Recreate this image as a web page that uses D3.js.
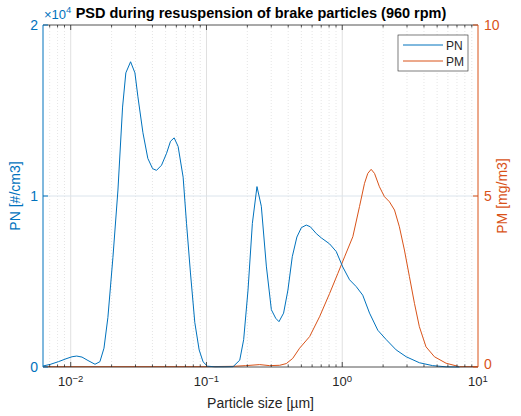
<!DOCTYPE html>
<html>
<head>
<meta charset="utf-8">
<script src="https://cdn.jsdelivr.net/npm/d3@7"></script>
<style>
body { margin: 0; background: #fff; }
text { font-family: "Liberation Sans", Arial, sans-serif; }
</style>
</head>
<body>
<svg id="chart" width="521" height="416"></svg>
<script>
// particle size [um] and number concentration [#/cm3]
var pnSize = [0.00625, 0.00705, 0.00811, 0.00923, 0.01023, 0.01107, 0.01211, 0.0134, 0.0151, 0.01641,
  0.01758, 0.01879, 0.02046, 0.02228, 0.0241, 0.02547, 0.02761, 0.02972, 0.03126, 0.03404,
  0.03698, 0.04009, 0.04285, 0.04667, 0.05082, 0.05433, 0.05781, 0.0618, 0.0673, 0.07129,
  0.07621, 0.08204, 0.08831, 0.09441, 0.1016, 0.1151, 0.1365, 0.157, 0.1758, 0.1879,
  0.2023, 0.2178, 0.2355, 0.2535, 0.2761, 0.3006, 0.3236, 0.342, 0.3698, 0.3981,
  0.4285, 0.4634, 0.5, 0.5433, 0.5821, 0.6442, 0.7015, 0.8072, 0.9036, 1.009,
  1.132, 1.268, 1.416, 1.589, 1.828, 2.109, 2.495, 2.958, 3.698, 4.634, 5.821, 7.3];
var pnValue = [60, 150, 310, 480, 600, 640, 580, 380, 160, 310,
  1100, 2900, 6400, 10350, 15200, 17200, 17850, 17200, 15800, 13700,
  12200, 11600, 11500, 11800, 12500, 13200, 13400, 12900, 11100, 8400,
  5500, 2600, 1000, 300, 50, 10, 10, 20, 400, 1600,
  4500, 8400, 10550, 9400, 5900, 3350, 2850, 2650, 3150, 4500,
  6450, 7600, 8150, 8300, 8200, 7800, 7550, 7200, 6750, 5850,
  5100, 4700, 4200, 3150, 2150, 1600, 1000, 600, 250, 80, 10, 0];

// particle size [um] and mass concentration [mg/m3]
var pmSize = [0.00625, 0.01, 0.02, 0.05, 0.1, 0.157, 0.1945, 0.2466, 0.2917, 0.3459,
  0.3873, 0.4315, 0.4853, 0.5754, 0.6808, 0.8072, 0.929, 1.04, 1.197, 1.34,
  1.459, 1.542, 1.633, 1.729, 1.879, 2.046, 2.228, 2.427, 2.636, 2.871,
  3.126, 3.404, 3.698, 4.14, 4.775, 5.821, 7.295, 10];
var pmValue = [0.01, 0.01, 0.01, 0.01, 0.01, 0.02, 0.04, 0.07, 0.04, 0.05,
  0.1, 0.25, 0.55, 0.89, 1.47, 2.15, 2.74, 3.22, 3.81, 4.69,
  5.37, 5.66, 5.78, 5.66, 5.27, 4.98, 4.83, 4.59, 4.1, 3.42,
  2.64, 1.86, 1.18, 0.59, 0.3, 0.11, 0.01, 0.01];

var xDecades = [-2, -1, 0, 1];
var leftTicks = [0, 10000, 20000];
var leftTickLabels = ["0", "1", "2"];
var rightTicks = [0, 5, 10];

var blue = "#0072BD", orange = "#D95319", dark = "#262626";
var L = 43, R = 478, T = 25, B = 367;

var svg = d3.select("#chart");
var x = d3.scaleLog().domain([0.00625, 10]).range([L, R]);
var yL = d3.scaleLinear().domain([0, 20000]).range([B, T]);
var yR = d3.scaleLinear().domain([0, 10]).range([B, T]);

svg.append("rect").attr("x", L).attr("y", T).attr("width", R - L).attr("height", B - T).attr("fill", "#fff");

// minor x grid
var minors = [];
for (var e = -3; e <= 0; e++) {
  for (var k = 2; k <= 9; k++) {
    var v = k * Math.pow(10, e);
    if (v > 0.00625 && v < 10) minors.push(v);
  }
}
svg.append("g").selectAll("line").data(minors).enter().append("line")
  .attr("x1", d => x(d)).attr("x2", d => x(d)).attr("y1", T).attr("y2", B)
  .attr("stroke", "#d4d4d4").attr("stroke-width", 0.6).attr("stroke-dasharray", "1,2");

// major grid
svg.append("g").selectAll("line").data(xDecades.slice(0, 3)).enter().append("line")
  .attr("x1", d => x(Math.pow(10, d))).attr("x2", d => x(Math.pow(10, d))).attr("y1", T).attr("y2", B)
  .attr("stroke", "#e0e0e0").attr("stroke-width", 1);
svg.append("line").attr("x1", L).attr("x2", R).attr("y1", yL(10000)).attr("y2", yL(10000))
  .attr("stroke", "#dbe4ec").attr("stroke-width", 1);

// curves
var linePN = d3.line().x((d, i) => x(pnSize[i])).y(d => yL(d));
var linePM = d3.line().x((d, i) => x(pmSize[i])).y(d => yR(d));
svg.append("path").datum(pmValue).attr("d", linePM).attr("fill", "none").attr("stroke", orange).attr("stroke-width", 1);
svg.append("path").datum(pnValue).attr("d", linePN).attr("fill", "none").attr("stroke", blue).attr("stroke-width", 1);

// frame: top and bottom
svg.append("line").attr("x1", L).attr("x2", R).attr("y1", B).attr("y2", B).attr("stroke", dark).attr("stroke-width", 0.8);
svg.append("line").attr("x1", L).attr("x2", R).attr("y1", T).attr("y2", T).attr("stroke", dark).attr("stroke-width", 0.8);

// x ticks (inward) on bottom and top
var majorX = xDecades.map(d => Math.pow(10, d)).filter(v => v < 10);
[B, T].forEach(function(yy) {
  var dir = yy === B ? -1 : 1;
  svg.append("g").selectAll("line").data(majorX).enter().append("line")
    .attr("x1", d => x(d)).attr("x2", d => x(d)).attr("y1", yy).attr("y2", yy + dir * 5)
    .attr("stroke", dark).attr("stroke-width", 0.8);
  svg.append("g").selectAll("line").data(minors).enter().append("line")
    .attr("x1", d => x(d)).attr("x2", d => x(d)).attr("y1", yy).attr("y2", yy + dir * 2.5)
    .attr("stroke", dark).attr("stroke-width", 0.8);
});

// x tick labels
var xl = svg.append("g").selectAll("text").data(xDecades).enter().append("text")
  .attr("x", d => x(Math.pow(10, d))).attr("y", 386)
  .attr("text-anchor", "middle").attr("font-size", 13).attr("fill", dark);
xl.append("tspan").text("10");
xl.append("tspan").attr("dy", -4.5).attr("font-size", 9.5).text(d => d < 0 ? "\u2212" + (-d) : d);

svg.append("text").attr("x", (L + R) / 2).attr("y", 408).attr("text-anchor", "middle")
  .attr("font-size", 14).attr("fill", dark).text("Particle size [\u00b5m]");

// left axis
svg.append("line").attr("x1", L).attr("x2", L).attr("y1", T).attr("y2", B).attr("stroke", blue).attr("stroke-width", 1);
svg.append("g").selectAll("line").data(leftTicks).enter().append("line")
  .attr("x1", L).attr("x2", L + 5).attr("y1", d => yL(d)).attr("y2", d => yL(d)).attr("stroke", blue);
svg.append("g").selectAll("text").data(leftTicks).enter().append("text")
  .attr("x", L - 5).attr("y", d => yL(d) + 5).attr("text-anchor", "end")
  .attr("font-size", 14).attr("fill", blue).text((d, i) => leftTickLabels[i]);
var mult = svg.append("text").attr("x", 44).attr("y", 19).attr("font-size", 13).attr("fill", blue);
mult.append("tspan").text("\u00d710");
mult.append("tspan").attr("dy", -6).attr("font-size", 9.5).text("4");
svg.append("text").attr("transform", "translate(20," + yL(10000) + ") rotate(-90)")
  .attr("text-anchor", "middle").attr("font-size", 14).attr("fill", blue).text("PN [#/cm3]");

// right axis
svg.append("line").attr("x1", R).attr("x2", R).attr("y1", T).attr("y2", B).attr("stroke", orange).attr("stroke-width", 1);
svg.append("g").selectAll("line").data(rightTicks).enter().append("line")
  .attr("x1", R).attr("x2", R - 5).attr("y1", d => yR(d)).attr("y2", d => yR(d)).attr("stroke", orange);
svg.append("g").selectAll("text").data(rightTicks).enter().append("text")
  .attr("x", R + 6).attr("y", d => yR(d) + (d === 0 ? 1.5 : 5)).attr("text-anchor", "start")
  .attr("font-size", 14).attr("fill", orange).text(d => d);
svg.append("text").attr("transform", "translate(507," + yR(5) + ") rotate(-90)")
  .attr("text-anchor", "middle").attr("font-size", 14).attr("fill", orange).text("PM [mg/m3]");

// title
svg.append("text").attr("x", 261).attr("y", 18).attr("text-anchor", "middle")
  .attr("font-size", 14.5).attr("font-weight", "bold").attr("fill", "#000")
  .text("PSD during resuspension of brake particles (960 rpm)");

// legend
var leg = svg.append("g");
leg.append("rect").attr("x", 398).attr("y", 35).attr("width", 70).attr("height", 36)
  .attr("fill", "#fff").attr("stroke", "#262626").attr("stroke-width", 0.6);
[["PN", blue, 45], ["PM", orange, 61]].forEach(function(s) {
  leg.append("line").attr("x1", 403).attr("x2", 443).attr("y1", s[2]).attr("y2", s[2]).attr("stroke", s[1]);
  leg.append("text").attr("x", 446).attr("y", s[2] + 4.5).attr("font-size", 12).attr("fill", dark).text(s[0]);
});
</script>
</body>
</html>
